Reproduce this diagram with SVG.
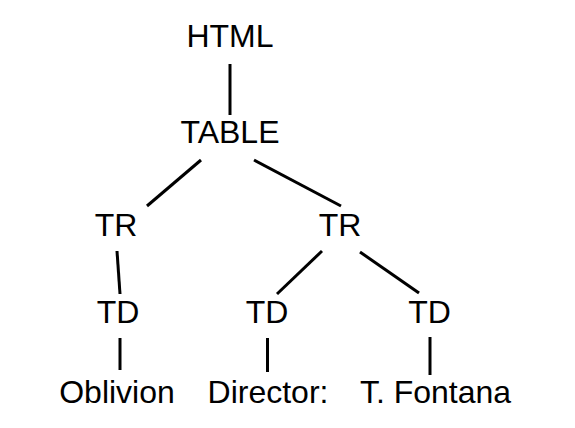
<svg xmlns="http://www.w3.org/2000/svg" width="575" height="428" viewBox="0 0 575 428">
<style>
.t{font-family:"Liberation Sans",Arial,sans-serif;font-size:32px;fill:#000;text-anchor:middle}
.c line{stroke:#000;stroke-width:3;stroke-linecap:butt}
</style>
<rect width="575" height="428" fill="#fff"/>
<g class="c" id="connectors">
<line x1="230" y1="64" x2="230" y2="115"/>
<line x1="201" y1="160" x2="147" y2="206"/>
<line x1="254" y1="160" x2="341" y2="206"/>
<line x1="117" y1="251" x2="120" y2="294"/>
<line x1="322" y1="251" x2="277" y2="294"/>
<line x1="360" y1="252" x2="419" y2="293"/>
<line x1="120" y1="338" x2="120" y2="370"/>
<line x1="267.5" y1="338" x2="267.5" y2="372"/>
<line x1="430" y1="337" x2="430" y2="375"/>
</g>
<g id="html"><text class="t" x="230" y="47">HTML</text></g>
<g id="table"><text class="t" x="230" y="143">TABLE</text></g>
<g id="tr1"><text class="t" x="116" y="236">TR</text></g>
<g id="tr2"><text class="t" x="340" y="236">TR</text></g>
<g id="td1"><text class="t" x="118" y="322.5">TD</text></g>
<g id="td2"><text class="t" x="267" y="322.5">TD</text></g>
<g id="td3"><text class="t" x="429.5" y="322.5">TD</text></g>
<g id="oblivion"><text class="t" x="117" y="403">Oblivion</text></g>
<g id="director"><text class="t" x="268" y="403">Director:</text></g>
<g id="fontana"><text class="t" x="435.5" y="403">T. Fontana</text></g>
</svg>
